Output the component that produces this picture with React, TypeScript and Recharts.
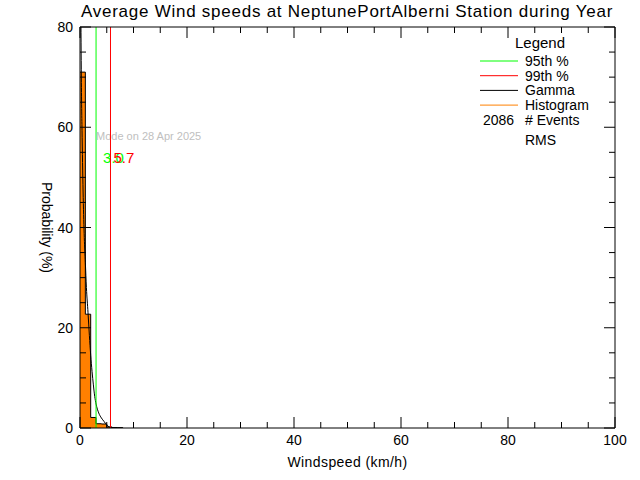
import { ComposedChart, Area, Line, XAxis, YAxis, ReferenceLine } from "recharts";

const FONT = "'Liberation Sans', Arial, sans-serif";

// histogram bins (left edge, km/h) and probability (%)
const BIN_EDGES = [0, 1, 2, 3, 4, 5, 6, 7, 8];
const BIN_VALUES = [71, 22.7, 2.1, 0.85, 0.8, 0.2, 0.1, 0.05, 0];

// fitted gamma curve
const GAMMA_X = [0.15, 0.25, 0.4, 0.6, 0.8, 1.0, 1.2, 1.5, 1.75, 2.0, 2.25, 2.5, 2.75, 3.0, 3.5, 4.0, 4.5, 5.0, 5.5, 6.0, 7.0, 8.0];
const GAMMA_Y = [85, 70, 58, 46, 38, 33, 28, 23, 18.5, 14.5, 11.3, 8.6, 6.3, 4.8, 3.0, 2.0, 1.3, 0.6, 0.2, 0.1, 0.04, 0.01];

const X_TICKS = [0, 5, 10, 15, 20, 25, 30, 35, 40, 45, 50, 55, 60, 65, 70, 75, 80, 85, 90, 95, 100];
const Y_TICKS = [0, 5, 10, 15, 20, 25, 30, 35, 40, 45, 50, 55, 60, 65, 70, 75, 80];

const P95 = 3.0;
const P99 = 5.7;
const EVENTS = 2086;
const MODE_TEXT = "Mode on 28 Apr 2025";

const LEGEND_ITEMS = [
  { label: "95th %", color: "#00ff00" },
  { label: "99th %", color: "#ff0000" },
  { label: "Gamma", color: "#000000" },
  { label: "Histogram", color: "#ff8000" },
];

const W = 640;
const H = 480;
const MARGIN = { top: 27, right: 25, bottom: 22, left: 40 };
const Y_AXIS_W = 40;
const X_AXIS_H = 30;
const PLOT_W = W - MARGIN.left - MARGIN.right - Y_AXIS_W;
const PLOT_H = H - MARGIN.top - MARGIN.bottom - X_AXIS_H;

const rows = [
  ...BIN_EDGES.map((x, i) => ({ x, hist: BIN_VALUES[i] })),
  ...GAMMA_X.map((x, i) => ({ x, gamma: GAMMA_Y[i] })),
].sort((a, b) => a.x - b.x);

const XTick = ({ x, y, payload }: any) => {
  const v = payload.value;
  const major = v % 20 === 0;
  const len = major ? 11 : 6;
  return (
    <g>
      <line x1={x} y1={y} x2={x} y2={y - len} stroke="#000" />
      <line x1={x} y1={y - PLOT_H} x2={x} y2={y - PLOT_H + len} stroke="#000" />
      {major && (
        <text x={x} y={y + 17} textAnchor="middle" fontSize={14} fontFamily={FONT} fill="#000">
          {v}
        </text>
      )}
    </g>
  );
};

const YTick = ({ x, y, payload }: any) => {
  const v = payload.value;
  const major = v % 20 === 0;
  const len = major ? 11 : 6;
  return (
    <g>
      <line x1={x} y1={y} x2={x + len} y2={y} stroke="#000" />
      <line x1={x + PLOT_W} y1={y} x2={x + PLOT_W - len} y2={y} stroke="#000" />
      {major && (
        <text x={x - 7} y={y + 5} textAnchor="end" fontSize={14} fontFamily={FONT} fill="#000">
          {v}
        </text>
      )}
    </g>
  );
};

const p95Label = (props: any) => {
  const vb = props.viewBox;
  return (
    <g>
      <text x={vb.x} y={vb.y + 113} fontSize={11} fontFamily={FONT} fill="#c0c0c0">
        {MODE_TEXT}
      </text>
      <text x={vb.x + 7} y={vb.y + 136} fontSize={15} fontFamily={FONT} fill="#00ff00">
        {P95.toFixed(1)}
      </text>
    </g>
  );
};

const p99Label = (props: any) => {
  const vb = props.viewBox;
  return (
    <text x={vb.x + 3} y={vb.y + 136} fontSize={15} fontFamily={FONT} fill="#ff0000">
      {P99.toFixed(1)}
    </text>
  );
};

const xLabel = (props: any) => {
  const vb = props.viewBox;
  return (
    <text
      x={vb.x + vb.width / 2}
      y={vb.y + 39}
      textAnchor="middle"
      fontSize={14}
      letterSpacing={0.4}
      fontFamily={FONT}
      fill="#000"
    >
      Windspeed (km/h)
    </text>
  );
};

const yLabel = (props: any) => {
  const vb = props.viewBox;
  const cx = vb.x + 7;
  const cy = vb.y + vb.height / 2;
  return (
    <text
      x={cx}
      y={cy}
      textAnchor="middle"
      dominantBaseline="central"
      transform={`rotate(90, ${cx}, ${cy})`}
      fontSize={14}
      fontFamily={FONT}
      fill="#000"
    >
      Probability (%)
    </text>
  );
};

export default function App() {
  return (
    <div style={{ position: "absolute", left: 0, top: 0, width: W, height: H, background: "#fff" }}>
      <ComposedChart width={W} height={H} data={rows} margin={MARGIN}>
        <XAxis
          dataKey="x"
          type="number"
          domain={[0, 100]}
          ticks={X_TICKS}
          interval={0}
          height={X_AXIS_H}
          tickSize={0}
          tickMargin={0}
          tickLine={false}
          tick={<XTick />}
          axisLine={{ stroke: "#000" }}
          label={xLabel}
        />
        <YAxis
          type="number"
          domain={[0, 80]}
          allowDataOverflow
          ticks={Y_TICKS}
          interval={0}
          width={Y_AXIS_W}
          tickSize={0}
          tickMargin={0}
          tickLine={false}
          tick={<YTick />}
          axisLine={{ stroke: "#000" }}
          label={yLabel}
        />
        <Line
          dataKey="gamma"
          type="monotone"
          stroke="#000"
          strokeWidth={1}
          dot={false}
          connectNulls
          isAnimationActive={false}
        />
        <Area
          dataKey="hist"
          type="stepAfter"
          stroke="#000"
          strokeWidth={1}
          fill="#ff8000"
          fillOpacity={1}
          connectNulls
          isAnimationActive={false}
        />
        <ReferenceLine x={P95} stroke="#00ff00" label={p95Label} />
        <ReferenceLine x={P99} stroke="#ff0000" label={p99Label} />
        <ReferenceLine y={80} stroke="#000" />
        <ReferenceLine x={100} stroke="#000" />
      </ComposedChart>
      <svg
        width={W}
        height={H}
        style={{ position: "absolute", left: 0, top: 0, pointerEvents: "none" }}
        fontFamily={FONT}
      >
        <text x={347} y={17} textAnchor="middle" fontSize={17} letterSpacing={0.75} fill="#000">
          Average Wind speeds at NeptunePortAlberni Station during Year
        </text>
        <text x={540} y={48} textAnchor="middle" fontSize={15} fill="#000">
          Legend
        </text>
        {LEGEND_ITEMS.map((item, i) => (
          <g key={item.label}>
            <line x1={480} x2={518} y1={61 + i * 14.7} y2={61 + i * 14.7} stroke={item.color} />
            <text x={525} y={66 + i * 14.7} fontSize={14} fill="#000">
              {item.label}
            </text>
          </g>
        ))}
        <text x={483} y={125} fontSize={14} fill="#000">
          {EVENTS}
        </text>
        <text x={525} y={125} fontSize={14} fill="#000">
          # Events
        </text>
        <text x={525} y={145} fontSize={14} fill="#000">
          RMS
        </text>
      </svg>
    </div>
  );
}
